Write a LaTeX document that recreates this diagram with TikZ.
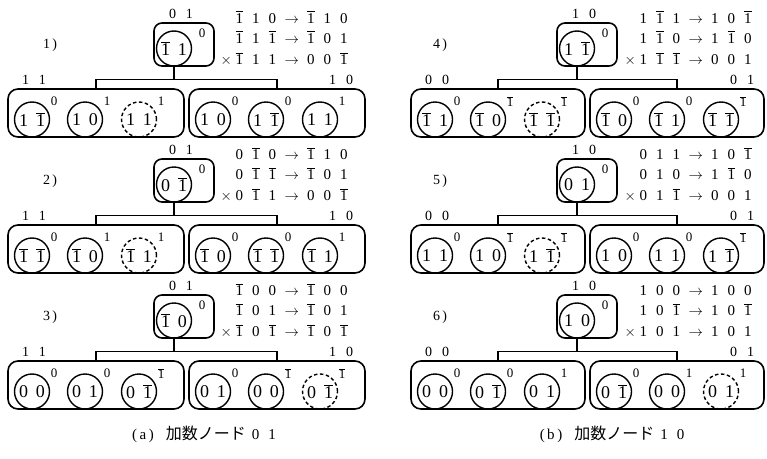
\documentclass[tikz,border=0pt]{standalone}
\usepackage{fontspec}
\setmainfont{Liberation Serif}
\newfontfamily\cjk{Noto Sans CJK JP}
\newcommand{\ob}{\ensuremath{\overline{\mbox{1}}}}
\newcommand{\dg}[1]{\makebox[16.5pt]{#1}}
\newcommand{\Ln}[6]{\dg{#1}\dg{#2}\dg{#3}\makebox[22pt]{$\rightarrow$}\dg{#4}\dg{#5}\dg{#6}}
\newcommand{\cdig}[2]{\makebox[0pt]{\makebox[17pt]{#1}\makebox[17pt]{#2}}}
\newcommand{\pr}[2]{\makebox[17pt]{#1}\makebox[17pt]{#2}}
\tikzset{
  topbox/.style={draw, line width=1.6pt, rounded corners=8pt, minimum width=60pt, minimum height=43pt, inner sep=0pt},
  grp/.style={draw, line width=1.6pt, rounded corners=10pt, minimum height=48pt, inner sep=0pt},
  cnode/.style={circle, draw, line width=1.4pt, minimum size=35pt, inner sep=0pt, font=\fontsize{18}{18}\selectfont},
  dashc/.style={dash pattern=on 3.5pt off 2.5pt},
  sup/.style={inner sep=0pt, font=\fontsize{13}{13}\selectfont},
  lab/.style={inner sep=0pt, font=\fontsize{14}{14}\selectfont},
  txt/.style={inner sep=0pt, font=\fontsize{15}{15}\selectfont},
  num/.style={inner sep=0pt, font=\fontsize{14}{14}\selectfont},
  conn/.style={line width=1.3pt},
  captext/.style={inner sep=0pt, font=\fontsize{15}{15}\selectfont},
}
% top part: id, box-left x, y offset, label {a}{b}, circle {a}{b}
\newcommand{\Top}[5]{%
  \node[topbox] (#1b) at ({#2+30},{#3+44.5}) {};
  \node[cnode] (#1c) at ({#2+20},{#3+48.5}) {\cdig#5};
  \node[sup] (#1s) at ({#2+48},{#3+33}) {0};
  \node[lab] (#1l) at ({#2+27},{#3+14}) {\pr#4};
}
% text lines: id, x start, y offset, three lines
\newcommand{\Txt}[6]{%
  \node[txt, anchor=base west] (#1t1) at (#2,{#3+23}) {\Ln#4};
  \node[txt, anchor=base west] (#1t2) at (#2,{#3+43}) {\Ln#5};
  \node[txt, anchor=base west] (#1t3) at (#2,{#3+64}) {\Ln#6};
  \node[txt, anchor=base east] (#1x) at ({#2+1},{#3+64}) {$\times$};
}
% circle: name, x, y, a, b, sup, style
\newcommand{\Cir}[7]{%
  \node[cnode,#7] (#1) at ({#2},{#3}) {\cdig{#4}{#5}};
  \node[sup] (#1s) at ({#2+22},{#3-18}) {#6};
}
% group box: id, left x, y offset, width, three circles {a}{b}{sup}{style}
\newcommand{\Row}[7]{%
  \node[grp, minimum width=#4pt] (#1) at ({#2+#4/2},{#3+113}) {};
  \Cir{#1a}{#2+24}{#3+119.5}#5
  \Cir{#1b}{#2+77}{#3+119.5}#6
  \Cir{#1c}{#2+131}{#3+119.5}#7
}
% connectors: top id, left box, right box
\newcommand{\Bar}[3]{%
  \path (#1c.south) ++(0,12.5) coordinate (#1j);
  \draw[conn] (#1c.south) -- (#1j);
  \draw[conn] (#2.north) |- (#1j) -| (#3.north);
}
\begin{document}
\begin{tikzpicture}[x=1pt,y=-1pt]
\useasboundingbox (0,0) rectangle (767,458);
\fill[white] (0,0) rectangle (767,458);
% ---------- panel 1
\node[num] (an) at (50,45) {1\,)};
\Top{a}{154}{0}{{0}{1}}{{\ob}{1}}
\Txt{a}{231}{0}{{\ob}{1}{0}{\ob}{1}{0}}{{\ob}{1}{\ob}{\ob}{0}{1}}{{\ob}{1}{1}{0}{0}{\ob}}
\Row{aL}{8}{0}{176}{{1}{\ob}{0}{solid}}{{1}{0}{1}{solid}}{{1}{1}{1}{dashc}}
\Row{aR}{189}{0}{176}{{1}{0}{0}{solid}}{{1}{\ob}{0}{solid}}{{1}{1}{1}{solid}}
\node[lab] (aLl) at (34,80) {\pr{1}{1}};
\node[lab] (aRl) at (341,80) {\pr{1}{0}};
\Bar{a}{aL}{aR}
% ---------- panel 2
\node[num] (bn) at (50,181) {2\,)};
\Top{b}{154}{136}{{0}{1}}{{0}{\ob}}
\Txt{b}{231}{136}{{0}{\ob}{0}{\ob}{1}{0}}{{0}{\ob}{\ob}{\ob}{0}{1}}{{0}{\ob}{1}{0}{0}{\ob}}
\Row{bL}{8}{136}{176}{{\ob}{\ob}{0}{solid}}{{\ob}{0}{1}{solid}}{{\ob}{1}{1}{dashc}}
\Row{bR}{189}{136}{176}{{\ob}{0}{0}{solid}}{{\ob}{\ob}{0}{solid}}{{\ob}{1}{1}{solid}}
\node[lab] (bLl) at (34,216) {\pr{1}{1}};
\node[lab] (bRl) at (341,216) {\pr{1}{0}};
\Bar{b}{bL}{bR}
% ---------- panel 3
\node[num] (cn) at (50,317) {3\,)};
\Top{c}{154}{272}{{0}{1}}{{\ob}{0}}
\Txt{c}{231}{272}{{\ob}{0}{0}{\ob}{0}{0}}{{\ob}{0}{1}{\ob}{0}{1}}{{\ob}{0}{\ob}{\ob}{0}{\ob}}
\Row{cL}{8}{272}{176}{{0}{0}{0}{solid}}{{0}{1}{0}{solid}}{{0}{\ob}{\ob}{solid}}
\Row{cR}{189}{272}{176}{{0}{1}{0}{solid}}{{0}{0}{\ob}{solid}}{{0}{\ob}{\ob}{dashc}}
\node[lab] (cLl) at (34,352) {\pr{1}{1}};
\node[lab] (cRl) at (341,352) {\pr{1}{0}};
\Bar{c}{cL}{cR}
% ---------- panel 4
\node[num] (dn) at (440,45) {4\,)};
\Top{d}{557}{0}{{1}{0}}{{1}{\ob}}
\Txt{d}{635}{0}{{1}{\ob}{1}{1}{0}{\ob}}{{1}{\ob}{0}{1}{\ob}{0}}{{1}{\ob}{\ob}{0}{0}{1}}
\Row{dL}{411}{0}{174}{{\ob}{1}{0}{solid}}{{\ob}{0}{\ob}{solid}}{{\ob}{\ob}{\ob}{dashc}}
\Row{dR}{590}{0}{174}{{\ob}{0}{0}{solid}}{{\ob}{1}{0}{solid}}{{\ob}{\ob}{\ob}{solid}}
\node[lab] (dLl) at (437,80) {\pr{0}{0}};
\node[lab] (dRl) at (742,80) {\pr{0}{1}};
\Bar{d}{dL}{dR}
% ---------- panel 5
\node[num] (en) at (440,181) {5\,)};
\Top{e}{557}{136}{{1}{0}}{{0}{1}}
\Txt{e}{635}{136}{{0}{1}{1}{1}{0}{\ob}}{{0}{1}{0}{1}{\ob}{0}}{{0}{1}{\ob}{0}{0}{1}}
\Row{eL}{411}{136}{174}{{1}{1}{0}{solid}}{{1}{0}{\ob}{solid}}{{1}{\ob}{\ob}{dashc}}
\Row{eR}{590}{136}{174}{{1}{0}{0}{solid}}{{1}{1}{0}{solid}}{{1}{\ob}{\ob}{solid}}
\node[lab] (eLl) at (437,216) {\pr{0}{0}};
\node[lab] (eRl) at (742,216) {\pr{0}{1}};
\Bar{e}{eL}{eR}
% ---------- panel 6
\node[num] (fn) at (440,317) {6\,)};
\Top{f}{557}{272}{{1}{0}}{{1}{0}}
\Txt{f}{635}{272}{{1}{0}{0}{1}{0}{0}}{{1}{0}{\ob}{1}{0}{\ob}}{{1}{0}{1}{1}{0}{1}}
\Row{fL}{411}{272}{174}{{0}{0}{0}{solid}}{{0}{\ob}{0}{solid}}{{0}{1}{1}{solid}}
\Row{fR}{590}{272}{174}{{0}{\ob}{0}{solid}}{{0}{0}{1}{solid}}{{0}{1}{1}{dashc}}
\node[lab] (fLl) at (437,352) {\pr{0}{0}};
\node[lab] (fRl) at (742,352) {\pr{0}{1}};
\Bar{f}{fL}{fR}
% ---------- captions
\node[captext] (capa) at (204,434) {(\,a\,)\hspace{12pt}{\cjk\fontsize{16}{16}\selectfont 加数ノード}\hspace{6pt}0\hspace{9pt}1};
\node[captext] (capb) at (612,434) {(\,b\,)\hspace{12pt}{\cjk\fontsize{16}{16}\selectfont 加数ノード}\hspace{6pt}1\hspace{9pt}0};
\end{tikzpicture}
\end{document}
